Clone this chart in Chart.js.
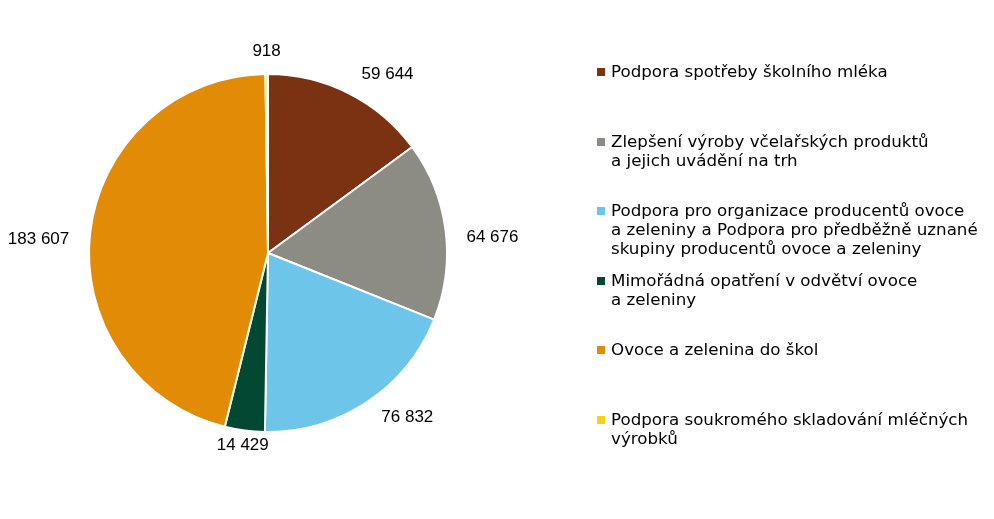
<!DOCTYPE html>
<html lang="cs">
<head>
    <meta charset="UTF-8">
    <title>Podpora - koláčový graf</title>
    <script src="https://cdn.jsdelivr.net/npm/chart.js"></script>
    <style>
        body { margin: 0; background: #fff; }
        #wrap { position: relative; width: 994px; height: 519px; }
        #legend { position: absolute; left: 597px; top: 62px; font-family: "DejaVu Sans", Verdana, sans-serif; font-size: 16.7px; color: #000; }
        .item { position: relative; height: 69.6px; padding-left: 14px; line-height: 19px; }
        .box { position: absolute; left: 0; top: 6px; width: 8px; height: 8px; }
    </style>
</head>
<body>
    <div id="wrap">
        <canvas id="pieChart" width="994" height="519"></canvas>
        <div id="legend"></div>
    </div>

    <script>
        // data
        const categories = [
            'Podpora spotřeby školního mléka',
            'Zlepšení výroby včelařských produktů\na jejich uvádění na trh',
            'Podpora pro organizace producentů ovoce\na zeleniny a Podpora pro předběžně uznané\nskupiny producentů ovoce a zeleniny',
            'Mimořádná opatření v odvětví ovoce\na zeleniny',
            'Ovoce a zelenina do škol',
            'Podpora soukromého skladování mléčných\nvýrobků'
        ];
        const values = [59644, 64676, 76832, 14429, 183607, 918];
        const colors = ['#7A3212', '#8C8B84', '#6DC5E9', '#034832', '#E28B06', '#F7D117'];

        function fmt(v) {
            return String(v).replace(/\B(?=(\d{3})+(?!\d))/g, ' ');
        }

        // value labels outside the slices, roughly the way Excel puts them
        const outsideLabels = {
            id: 'outsideLabels',
            afterDatasetsDraw(chart) {
                const ctx = chart.ctx;
                const meta = chart.getDatasetMeta(0);
                ctx.save();
                ctx.font = '17px "Liberation Sans", Arial, sans-serif';
                ctx.fillStyle = '#000';
                ctx.textAlign = 'center';
                ctx.textBaseline = 'middle';
                meta.data.forEach((arc, i) => {
                    const p = arc.getProps(['x', 'y', 'startAngle', 'endAngle', 'outerRadius'], true);
                    const mid = (p.startAngle + p.endAngle) / 2;
                    const r = p.outerRadius + 15;
                    const c = Math.cos(mid);
                    const s = Math.sin(mid);
                    const txt = fmt(values[i]);
                    const hw = ctx.measureText(txt).width / 2;
                    const f = Math.max(0, Math.min(1, (Math.abs(c) - 0.15) * 4));
                    const x = p.x + r * c + Math.sign(c) * f * (hw + 6);
                    const y = p.y + r * s + 10 * c * c + (s < 0 ? 8 * s : 0);
                    ctx.fillText(txt, x, y);
                });
                ctx.restore();
            }
        };

        new Chart(document.getElementById('pieChart'), {
            type: 'pie',
            data: {
                labels: categories,
                datasets: [{
                    data: values,
                    backgroundColor: colors,
                    borderColor: '#fff',
                    borderWidth: 2
                }]
            },
            options: {
                responsive: false,
                animation: false,
                layout: { padding: { top: 73, bottom: 86, left: 88, right: 546 } },
                plugins: {
                    legend: { display: false },
                    tooltip: { enabled: false }
                }
            },
            plugins: [outsideLabels]
        });

        // legend on the right
        const legend = document.getElementById('legend');
        categories.forEach((name, i) => {
            const item = document.createElement('div');
            item.className = 'item';
            const box = document.createElement('span');
            box.className = 'box';
            box.style.background = colors[i];
            item.appendChild(box);
            name.split('\n').forEach(line => {
                const d = document.createElement('div');
                d.textContent = line;
                item.appendChild(d);
            });
            legend.appendChild(item);
        });
    </script>
</body>
</html>
